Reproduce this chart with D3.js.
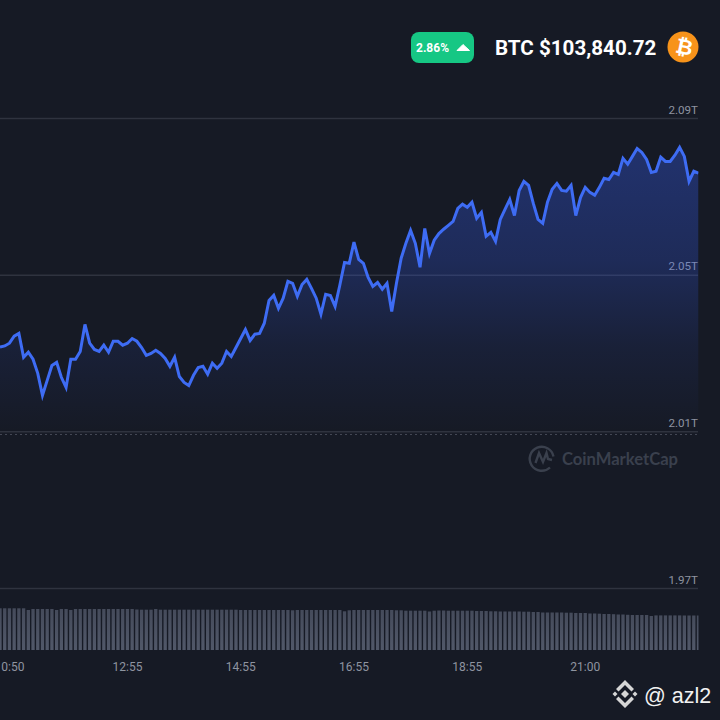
<!DOCTYPE html>
<html>
<head>
<meta charset="utf-8">
<script src="https://cdn.jsdelivr.net/npm/d3@7"></script>
<style>
  html, body { margin: 0; padding: 0; background: #161a25; }
  svg { display: block; }
  text { font-family: Roboto, sans-serif; }
</style>
</head>
<body>
<div id="chart"></div>
<script>
// market cap in billions, one reading every 5 minutes
const marketCap = [
  2031.5, 2031.8, 2032.5, 2034.3, 2035.0, 2028.9, 2030.2, 2028.4, 2024.8, 2019.2,
  2023.0, 2026.8, 2027.6, 2023.8, 2021.2, 2028.4, 2028.4, 2030.4, 2037.3, 2032.5,
  2030.9, 2030.4, 2032.0, 2030.2, 2033.0, 2033.0, 2032.0, 2032.5, 2033.7, 2033.0,
  2031.4, 2029.4, 2029.9, 2030.7, 2029.9, 2028.6, 2026.6, 2028.9, 2024.0, 2022.5,
  2021.7, 2024.3, 2026.3, 2026.6, 2024.6, 2027.4, 2026.1, 2027.4, 2030.4, 2029.1,
  2031.4, 2033.7, 2036.0, 2033.2, 2034.8, 2035.0, 2037.6, 2043.4, 2044.7, 2041.4,
  2044.0, 2048.3, 2047.8, 2044.5, 2047.5, 2048.8, 2046.5, 2044.0, 2039.9, 2045.0,
  2044.7, 2041.9, 2047.3, 2053.1, 2052.9, 2058.3, 2053.9, 2052.9, 2049.3, 2047.0,
  2048.0, 2046.3, 2047.8, 2040.6, 2047.8, 2054.2, 2058.0, 2061.3, 2058.0, 2051.9,
  2061.8, 2055.4, 2058.8, 2060.5, 2061.6, 2062.6, 2063.6, 2066.9, 2068.0, 2067.2,
  2068.5, 2064.4, 2065.9, 2059.8, 2060.8, 2058.5, 2064.1, 2066.7, 2069.2, 2065.1,
  2071.5, 2073.8, 2072.8, 2068.2, 2064.1, 2063.1, 2068.5, 2071.8, 2073.3, 2071.5,
  2071.3, 2072.8, 2065.1, 2069.7, 2072.3, 2071.0, 2070.3, 2072.3, 2074.6, 2074.3,
  2076.1, 2075.6, 2079.7, 2078.2, 2080.2, 2082.2, 2081.2, 2079.4, 2076.1, 2076.4,
  2080.0, 2078.9, 2078.9, 2080.5, 2082.5, 2080.2, 2073.8, 2076.4, 2075.9
];

const volume = [
  41.7, 41.7, 41.7, 41.7, 41.7, 41.7, 40.0, 41.0, 41.0, 41.0,
  41.0, 41.0, 40.0, 41.0, 41.0, 40.0, 41.0, 41.0, 41.0, 41.0,
  41.0, 41.0, 41.0, 41.0, 41.0, 41.0, 41.0, 41.0, 41.0, 40.5,
  40.3, 40.3, 40.3, 41.0, 40.3, 40.3, 40.3, 40.3, 40.3, 40.3,
  40.3, 40.3, 40.3, 40.3, 40.3, 40.3, 40.3, 40.3, 40.3, 40.3,
  40.3, 40.0, 40.0, 40.0, 40.0, 40.0, 40.0, 40.0, 40.0, 40.0,
  40.0, 40.0, 39.7, 40.0, 40.0, 40.0, 40.0, 40.0, 40.0, 40.0,
  40.0, 40.0, 40.0, 38.7, 39.7, 40.0, 40.0, 40.0, 40.0, 40.0,
  40.0, 40.0, 40.0, 40.0, 39.7, 39.7, 39.3, 39.3, 39.3, 39.3,
  39.3, 38.5, 39.3, 39.5, 39.5, 39.3, 39.3, 39.3, 39.3, 39.3,
  39.3, 39.0, 39.0, 39.0, 38.7, 38.7, 38.5, 38.5, 38.5, 38.5,
  38.5, 38.3, 38.3, 38.0, 38.0, 37.5, 37.5, 37.5, 37.5, 37.5,
  37.3, 37.3, 37.0, 37.0, 37.0, 36.5, 36.5, 36.3, 36.0, 36.0,
  35.8, 35.5, 35.5, 35.2, 35.0, 35.0, 35.0, 35.0, 34.0, 34.6,
  34.6, 34.6, 34.6, 34.6, 34.6, 34.5, 34.5, 34.5, 34.5
];

const capTicks = [1970, 2010, 2050, 2090];
const capTickLabels = ["1.97T", "2.01T", "2.05T", "2.09T"];
const timeTickIndex = [2, 27, 51, 75, 99, 124];
const timeTickLabels = ["10:50", "12:55", "14:55", "16:55", "18:55", "21:00"];
const referenceCap = 2009.2;

const BG = "#161a25";
const BLUE = "#3e6cf4";
const GRID = "#2f333f";
const TICK = "#8f94a0";

const width = 720, height = 720;
const svg = d3.select("#chart").append("svg")
  .attr("width", width).attr("height", height)
  .attr("viewBox", `0 0 ${width} ${height}`);

const defs = svg.append("defs");
defs.append("clipPath").attr("id", "plot-clip")
  .append("rect").attr("x", 0).attr("y", 0).attr("width", 698.5).attr("height", height);

const x = d3.scaleLinear().domain([0, marketCap.length - 1]).range([0, 698.5]);
const y = d3.scaleLinear().domain([1970, 2090]).range([588, 118]);
const yVol = d3.scaleLinear().domain([0, 42]).range([650, 608]);

const areaGrad = defs.append("linearGradient").attr("id", "area-fill")
  .attr("gradientUnits", "userSpaceOnUse")
  .attr("x1", 0).attr("x2", 0).attr("y1", 147).attr("y2", y(2010));
areaGrad.append("stop").attr("offset", "0%").attr("stop-color", "#3861fb").attr("stop-opacity", 0.34);
areaGrad.append("stop").attr("offset", "40%").attr("stop-color", "#3861fb").attr("stop-opacity", 0.24);
areaGrad.append("stop").attr("offset", "70%").attr("stop-color", "#3861fb").attr("stop-opacity", 0.09);
areaGrad.append("stop").attr("offset", "100%").attr("stop-color", "#3861fb").attr("stop-opacity", 0);

const barGrad = defs.append("linearGradient").attr("id", "bar-fill")
  .attr("x1", 0).attr("x2", 0).attr("y1", 0).attr("y2", 1);
barGrad.append("stop").attr("offset", "0%").attr("stop-color", "#454b5b");
barGrad.append("stop").attr("offset", "100%").attr("stop-color", "#515869");

// grid and right hand labels
const yAxis = d3.axisLeft(y).tickValues(capTicks)
  .tickFormat((d, i) => capTickLabels[i]).tickSize(0).tickPadding(0);
const yG = svg.append("g").attr("transform", "translate(698,0)").call(yAxis);
yG.select(".domain").remove();
yG.selectAll(".tick line").attr("x1", -698).attr("x2", 0).attr("stroke", GRID).attr("stroke-width", 1.5);
yG.selectAll(".tick text")
  .attr("dy", "-5").attr("fill", TICK).attr("font-size", 11.6).attr("font-family", "Roboto, sans-serif");

svg.append("line")
  .attr("x1", 0).attr("x2", 698).attr("y1", y(referenceCap)).attr("y2", y(referenceCap))
  .attr("stroke", "#454a57").attr("stroke-width", 1).attr("stroke-dasharray", "2 3");

const plot = svg.append("g").attr("clip-path", "url(#plot-clip)");

const area = d3.area().x((d, i) => x(i)).y0(y(2010)).y1(d => y(d));
const line = d3.line().x((d, i) => x(i)).y(d => y(d));

plot.append("path").datum(marketCap).attr("d", area).attr("fill", "url(#area-fill)");
plot.append("path").datum(marketCap).attr("d", line)
  .attr("fill", "none").attr("stroke", BLUE).attr("stroke-width", 3).attr("stroke-linejoin", "miter");

plot.selectAll(".vol").data(volume).join("rect")
  .attr("class", "vol")
  .attr("x", (d, i) => x(i) - 1.65)
  .attr("width", 3.3)
  .attr("y", d => yVol(d))
  .attr("height", d => yVol(0) - yVol(d))
  .attr("fill", "url(#bar-fill)");

// time axis
const xAxis = d3.axisBottom(x).tickValues(timeTickIndex)
  .tickFormat((d, i) => timeTickLabels[i]).tickSize(0).tickPadding(0);
const xG = svg.append("g").attr("transform", "translate(-0.5,662)").call(xAxis);
xG.select(".domain").remove();
xG.selectAll(".tick text")
  .attr("fill", TICK).attr("font-size", 12).attr("font-family", "Roboto, sans-serif");

// header: change badge, price, coin icon
const header = svg.append("g");
header.append("rect").attr("x", 411).attr("y", 32).attr("width", 63).attr("height", 31).attr("rx", 8).attr("fill", "#16c784");
header.append("text").attr("x", 416).attr("y", 52).attr("fill", "#fff")
  .attr("font-size", 12).attr("font-weight", 700).text("2.86%");
header.append("path").attr("d", "M457 50.5 L463 44.5 L469.5 50.5 Z").attr("fill", "#fff")
  .attr("stroke", "#fff").attr("stroke-width", 1).attr("stroke-linejoin", "round");
header.append("text").attr("x", 495).attr("y", 55).attr("fill", "#fff")
  .attr("font-size", 20.6).attr("font-weight", 700).text("BTC $103,840.72");
header.append("circle").attr("cx", 683).attr("cy", 47).attr("r", 15.5).attr("fill", "#f7931a");
header.append("text").attr("transform", "translate(683,54) rotate(12)").attr("text-anchor", "middle")
  .attr("fill", "#fff").attr("font-size", 21).attr("font-weight", 700)
  .style("font-family", "'DejaVu Sans', sans-serif").text("\u20BF");

// CoinMarketCap watermark
const wm = svg.append("g").attr("fill", "none").attr("stroke", "#3a404d").attr("stroke-width", 2.4);
wm.append("path").attr("d", "M550 467.5 A12 12 0 1 1 553.5 456.5");
wm.append("path").attr("d", "M535.5 463 L539 453 L543 462 L546.5 453 L548 459 L552 460");
svg.append("text").attr("x", 562).attr("y", 465).attr("fill", "#3a404d")
  .attr("font-size", 16.6).attr("font-weight", 700).style("font-family", "Lato, sans-serif")
  .text("CoinMarketCap");

// Binance mark and handle
const mark = svg.append("g").attr("fill", "#d6d6d6");
mark.append("path").attr("d", "M625 690 L629 694 L625 698 L621 694 Z");
mark.append("path").attr("d", "M615 691.5 L617.5 694 L615 696.5 L612.5 694 Z");
mark.append("path").attr("d", "M635 691.5 L637.5 694 L635 696.5 L632.5 694 Z");
mark.append("path").attr("d", "M625 680 L634 689 L631.5 691.5 L625 685 L618.5 691.5 L616 689 Z");
mark.append("path").attr("d", "M625 708 L634 699 L631.5 696.5 L625 703 L618.5 696.5 L616 699 Z");
svg.append("text").attr("x", 644).attr("y", 703).attr("fill", "#f2f2f2")
  .attr("font-size", 21.5).style("font-family", "'Liberation Sans', sans-serif").text("@ azl2");
</script>
</body>
</html>
